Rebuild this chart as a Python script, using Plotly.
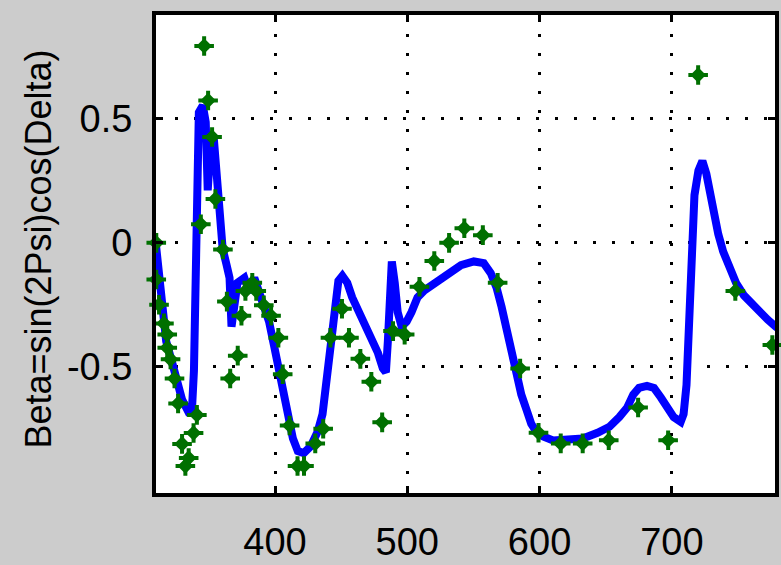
import plotly.graph_objects as go

# Measured points (green markers)
meas_x = [310.2, 310.2, 312.3, 316.0, 318.5, 318.5, 321.0, 324.0, 326.7, 329.7, 332.2, 334.7,
          338.4, 340.9, 343.9, 346.4, 349.4, 352.4, 354.9, 360.6, 363.6, 366.1, 371.8, 374.6,
          377.6, 382.8, 385.8, 391.5, 397.0, 402.5, 405.8, 411.0, 417.0, 421.9, 430.4, 436.4,
          441.9, 450.6, 455.9, 464.5, 472.8, 481.0, 489.2, 498.0, 509.2, 520.4, 531.6, 543.1,
          557.1, 568.3, 585.3, 599.2, 616.0, 632.6, 652.3, 674.5, 697.2, 719.9, 748.0, 776.0]
meas_y = [0.0, -0.148, -0.25, -0.325, -0.37, -0.423, -0.47, -0.547, -0.648, -0.811, -0.900, -0.868,
          -0.767, -0.694, 0.075, 0.794, 0.574, 0.427, 0.177, -0.027, -0.237, -0.547, -0.455, -0.294,
          -0.194, -0.161, -0.194, -0.252, -0.294, -0.383, -0.53, -0.737, -0.900, -0.900, -0.809, -0.750,
          -0.383, -0.266, -0.383, -0.468, -0.56, -0.724, -0.356, -0.37, -0.177, -0.073, 0.0, 0.059,
          0.031, -0.161, -0.507, -0.766, -0.809, -0.809, -0.796, -0.664, -0.796, 0.677, -0.194, -0.412]

# Model curve (blue line)
fit_x = [310.0, 312.5, 314.7, 317.7, 322.2, 326.0, 329.7, 334.2, 337.2, 338.7, 340.2, 341.7,
         342.4, 345.4, 347.6, 349.1, 351.4, 353.6, 355.9, 358.1, 360.4, 363.4, 365.6, 367.1,
         369.3, 371.6, 376.8, 380.6, 384.3, 388.0, 391.8, 395.5, 399.3, 403.0, 406.7, 410.5,
         413.5, 417.2, 421.7, 426.9, 432.2, 435.9, 439.6, 442.6, 445.6, 447.9, 450.9, 454.6,
         458.3, 462.8, 468.1, 473.3, 477.8, 481.5, 483.8, 485.3, 486.8, 488.3, 490.5, 492.7,
         495.7, 499.5, 503.2, 507.7, 512.9, 518.9, 525.7, 533.1, 540.6, 550.3, 557.8, 563.1,
         567.5, 571.3, 575.0, 578.8, 582.5, 586.2, 590.0, 593.7, 597.5, 602.7, 610.2, 621.4,
         632.6, 643.8, 652.8, 660.3, 666.3, 670.8, 675.2, 681.2, 686.5, 691.7, 696.2, 701.4,
         706.7, 708.9, 711.1, 713.4, 714.9, 717.1, 720.1, 723.1, 726.1, 729.1, 732.1, 735.1,
         738.8, 743.3, 748.5, 754.5, 760.5, 766.5, 772.5, 778.5, 786.0]
fit_y = [-0.01, -0.141, -0.279, -0.397, -0.483, -0.573, -0.632, -0.679, -0.671, -0.514, -0.200, 0.192,
         0.526, 0.554, 0.487, 0.212, 0.408, 0.428, 0.271, 0.114, -0.024, -0.090, -0.141, -0.338,
         -0.239, -0.161, -0.141, -0.200, -0.141, -0.200, -0.247, -0.318, -0.416, -0.514, -0.612, -0.711,
         -0.789, -0.840, -0.848, -0.821, -0.762, -0.691, -0.534, -0.357, -0.220, -0.153, -0.133, -0.161,
         -0.220, -0.271, -0.318, -0.377, -0.444, -0.506, -0.522, -0.397, -0.102, -0.075, -0.161, -0.279,
         -0.338, -0.318, -0.279, -0.220, -0.192, -0.169, -0.141, -0.114, -0.090, -0.075, -0.082, -0.122,
         -0.181, -0.259, -0.349, -0.436, -0.534, -0.612, -0.671, -0.730, -0.762, -0.781, -0.797, -0.797,
         -0.789, -0.766, -0.742, -0.703, -0.664, -0.612, -0.585, -0.577, -0.585, -0.624, -0.664, -0.703,
         -0.722, -0.691, -0.573, -0.318, -0.004, 0.192, 0.291, 0.330, 0.279, 0.192, 0.114, 0.035,
         -0.035, -0.102, -0.161, -0.212, -0.247, -0.279, -0.310, -0.338, -0.365]

x_ticks = [400, 500, 600, 700]
y_ticks = [-0.5, 0, 0.5]
y_tick_text = ["-0.5", "0", "0.5"]
y_label = "Beta=sin(2Psi)cos(Delta)"

GREEN = "#007000"
BLUE = "#0000ff"
FONT = "Liberation Sans, Arial, sans-serif"

fig = go.Figure()
fig.add_trace(go.Scatter(x=fit_x, y=fit_y, mode="lines",
                         line=dict(color=BLUE, width=8), hoverinfo="skip"))
fig.add_trace(go.Scatter(x=meas_x, y=meas_y, mode="markers", cliponaxis=False,
                         marker=dict(symbol="diamond", size=12, color=GREEN,
                                     line=dict(width=0))))
fig.add_trace(go.Scatter(x=meas_x, y=meas_y, mode="markers", cliponaxis=False,
                         marker=dict(symbol="cross-thin", size=14, color=GREEN,
                                     line=dict(width=4, color=GREEN))))

axis_common = dict(showline=True, linecolor="black", linewidth=4, mirror="allticks",
                   ticks="inside", ticklen=7, tickwidth=3, tickcolor="black",
                   showgrid=True, gridcolor="black", gridwidth=3, griddash="3px,16px",
                   zeroline=False, tickfont=dict(family=FONT, size=38, color="black"))

fig.update_xaxes(range=[310.0, 778.0], tickvals=x_ticks, ticklabelstandoff=12, **axis_common)
fig.update_yaxes(range=[-1.009, 0.919], tickvals=y_ticks, ticktext=y_tick_text,
                 ticklabelstandoff=12, **axis_common)

fig.add_annotation(text=y_label, xref="paper", yref="paper", x=-0.19, y=0.51,
                   textangle=-90, showarrow=False, xanchor="center", yanchor="middle",
                   font=dict(family=FONT, size=36, color="black"))

fig.update_layout(width=781, height=565, showlegend=False,
                  margin=dict(l=156, r=2, t=15, b=59, pad=0),
                  paper_bgcolor="#cccccc", plot_bgcolor="white")

fig.write_html("out.html")
